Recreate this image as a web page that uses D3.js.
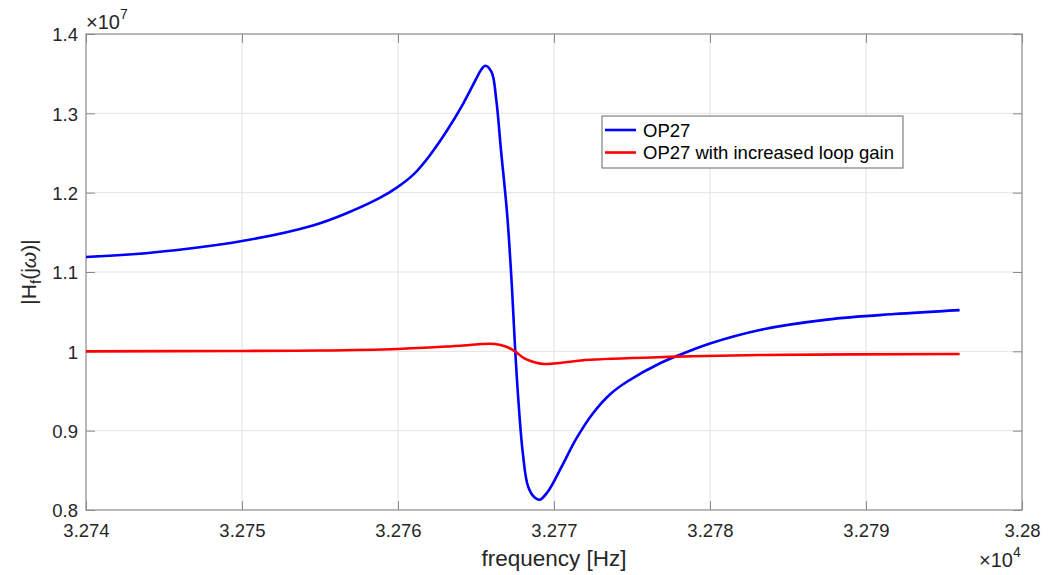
<!DOCTYPE html>
<html>
<head>
<meta charset="utf-8">
<script src="https://cdn.jsdelivr.net/npm/d3@7"></script>
<style>
  body { margin: 0; background: #fff; }
  svg { font-family: "Liberation Sans", Arial, sans-serif; }
</style>
</head>
<body>
<svg id="chart" width="1056" height="575"></svg>
<script>
// data, values in units of 1e7
var blueFreq = [32740, 32744, 32750, 32754.6, 32756.7, 32758.8, 32759.9, 32761, 32762, 32763.1,
  32764.2, 32765, 32765.3, 32765.6, 32766, 32766.3, 32766.6, 32767, 32767.3, 32767.5, 32767.7,
  32768, 32768.35, 32768.8, 32769.1, 32769.6, 32770.5, 32771.4, 32772.5, 32773.6, 32774.7,
  32776.8, 32778.9, 32780, 32783.2, 32787.5, 32791.8, 32796];
var blueVals = [1.119, 1.124, 1.139, 1.159, 1.174, 1.193, 1.206, 1.223, 1.246, 1.277,
  1.313, 1.343, 1.354, 1.360, 1.352, 1.317, 1.254, 1.172, 1.082, 1.006, 0.943,
  0.872, 0.829, 0.815, 0.813, 0.823, 0.855, 0.889, 0.922, 0.946, 0.962,
  0.985, 1.002, 1.010, 1.027, 1.040, 1.047, 1.052];

var redFreq = [32740, 32750, 32755, 32760, 32763.1, 32765.9, 32766.2, 32766.9, 32767.5, 32768.1,
  32768.8, 32769.4, 32770.5, 32772, 32777.3, 32783.2, 32796];
var redVals = [1.000, 1.0005, 1.001, 1.003, 1.006, 1.0095, 1.0092, 1.006, 1.000, 0.991,
  0.986, 0.984, 0.9857, 0.989, 0.993, 0.9954, 0.9966];

var seriesNames = ["OP27", "OP27 with increased loop gain"];
var seriesColors = ["#0000ff", "#ff0000"];

var xTicks = [32740, 32750, 32760, 32770, 32780, 32790, 32800];
var xTickLabels = ["3.274", "3.275", "3.276", "3.277", "3.278", "3.279", "3.28"];
var yTicks = [0.8, 0.9, 1.0, 1.1, 1.2, 1.3, 1.4];
var yTickLabels = ["0.8", "0.9", "1", "1.1", "1.2", "1.3", "1.4"];

var margin = {left: 86, top: 34, right: 1022, bottom: 510};

var svg = d3.select("#chart");

var x = d3.scaleLinear().domain([32740, 32800]).range([margin.left, margin.right]);
var y = d3.scaleLinear().domain([0.8, 1.4]).range([margin.bottom, margin.top]);

var axisColor = "#8a8a8a";
var textColor = "#262626";

// grid
var grid = svg.append("g");
grid.selectAll(".gx").data(xTicks.slice(1, -1)).enter().append("line")
  .attr("x1", d => x(d)).attr("x2", d => x(d))
  .attr("y1", margin.top).attr("y2", margin.bottom)
  .attr("stroke", "#e3e3e3").attr("stroke-width", 1);
grid.selectAll(".gy").data(yTicks.slice(1, -1)).enter().append("line")
  .attr("y1", d => y(d)).attr("y2", d => y(d))
  .attr("x1", margin.left).attr("x2", margin.right)
  .attr("stroke", "#e3e3e3").attr("stroke-width", 1);

// axes with inward ticks
var xAxis = d3.axisBottom(x).tickValues(xTicks).tickSize(-9).tickFormat((d, i) => xTickLabels[i]);
var gx = svg.append("g").attr("transform", "translate(0," + margin.bottom + ")").call(xAxis);
var yAxis = d3.axisLeft(y).tickValues(yTicks).tickSize(-9).tickFormat((d, i) => yTickLabels[i]);
var gy = svg.append("g").attr("transform", "translate(" + margin.left + ",0)").call(yAxis);
var gxTop = svg.append("g").attr("transform", "translate(0," + margin.top + ")")
  .call(d3.axisTop(x).tickValues(xTicks).tickSize(-9).tickFormat(""));
var gyRight = svg.append("g").attr("transform", "translate(" + margin.right + ",0)")
  .call(d3.axisRight(y).tickValues(yTicks).tickSize(-9).tickFormat(""));

[gx, gy, gxTop, gyRight].forEach(function(g) {
  g.select(".domain").remove();
  g.selectAll(".tick line").attr("stroke", axisColor);
  g.selectAll(".tick text").attr("fill", textColor).style("font-size", "18.5px")
    .style("font-family", "'Liberation Sans', Arial, sans-serif");
});
gx.selectAll(".tick text").attr("y", 27).attr("dy", 0);
gy.selectAll(".tick text").attr("x", -8).attr("dy", "0.36em");

// box
svg.append("rect")
  .attr("x", margin.left).attr("y", margin.top)
  .attr("width", margin.right - margin.left).attr("height", margin.bottom - margin.top)
  .attr("fill", "none").attr("stroke", axisColor).attr("stroke-width", 1.2);

// lines
var line = d3.line().curve(d3.curveCatmullRom.alpha(0.5)).x(d => x(d[0])).y(d => y(d[1]));
var blue = d3.zip(blueFreq, blueVals);
var red = d3.zip(redFreq, redVals);

svg.append("path").datum(blue).attr("d", line)
  .attr("fill", "none").attr("stroke", seriesColors[0]).attr("stroke-width", 2.6);
svg.append("path").datum(red).attr("d", line)
  .attr("fill", "none").attr("stroke", seriesColors[1]).attr("stroke-width", 2.6);

// exponent labels
var ex = svg.append("text").attr("x", 86).attr("y", 29).attr("fill", textColor).style("font-size", "20px");
ex.append("tspan").text("\u00d710");
ex.append("tspan").attr("dy", -10).style("font-size", "14px").text("7");

var ex2 = svg.append("text").attr("x", 979).attr("y", 567).attr("fill", textColor).style("font-size", "20px");
ex2.append("tspan").text("\u00d710");
ex2.append("tspan").attr("dy", -10).style("font-size", "14px").text("4");

// axis labels
svg.append("text").attr("x", (margin.left + margin.right) / 2).attr("y", 566)
  .attr("text-anchor", "middle").attr("fill", textColor).style("font-size", "22.5px")
  .text("frequency [Hz]");

var yl = svg.append("text")
  .attr("transform", "translate(36," + ((margin.top + margin.bottom) / 2) + ") rotate(-90)")
  .attr("text-anchor", "middle").attr("fill", textColor).style("font-size", "21px");
yl.append("tspan").text("|H");
yl.append("tspan").attr("dy", 5).style("font-size", "15px").text("f");
yl.append("tspan").attr("dy", -5).text("(j");
yl.append("tspan").style("font-style", "italic").text("\u03c9");
yl.append("tspan").text(")|");

// legend
var lg = svg.append("g");
lg.append("rect").attr("x", 602).attr("y", 116).attr("width", 301).attr("height", 52)
  .attr("fill", "#fff").attr("stroke", "#666").attr("stroke-width", 1);
seriesNames.forEach(function(name, i) {
  var yy = 130 + i * 22.5;
  lg.append("line").attr("x1", 605).attr("x2", 636).attr("y1", yy).attr("y2", yy)
    .attr("stroke", seriesColors[i]).attr("stroke-width", 2.6);
  lg.append("text").attr("x", 643).attr("y", yy).attr("dy", "0.36em")
    .attr("fill", "#000").style("font-size", "18.5px").text(name);
});
</script>
</body>
</html>
